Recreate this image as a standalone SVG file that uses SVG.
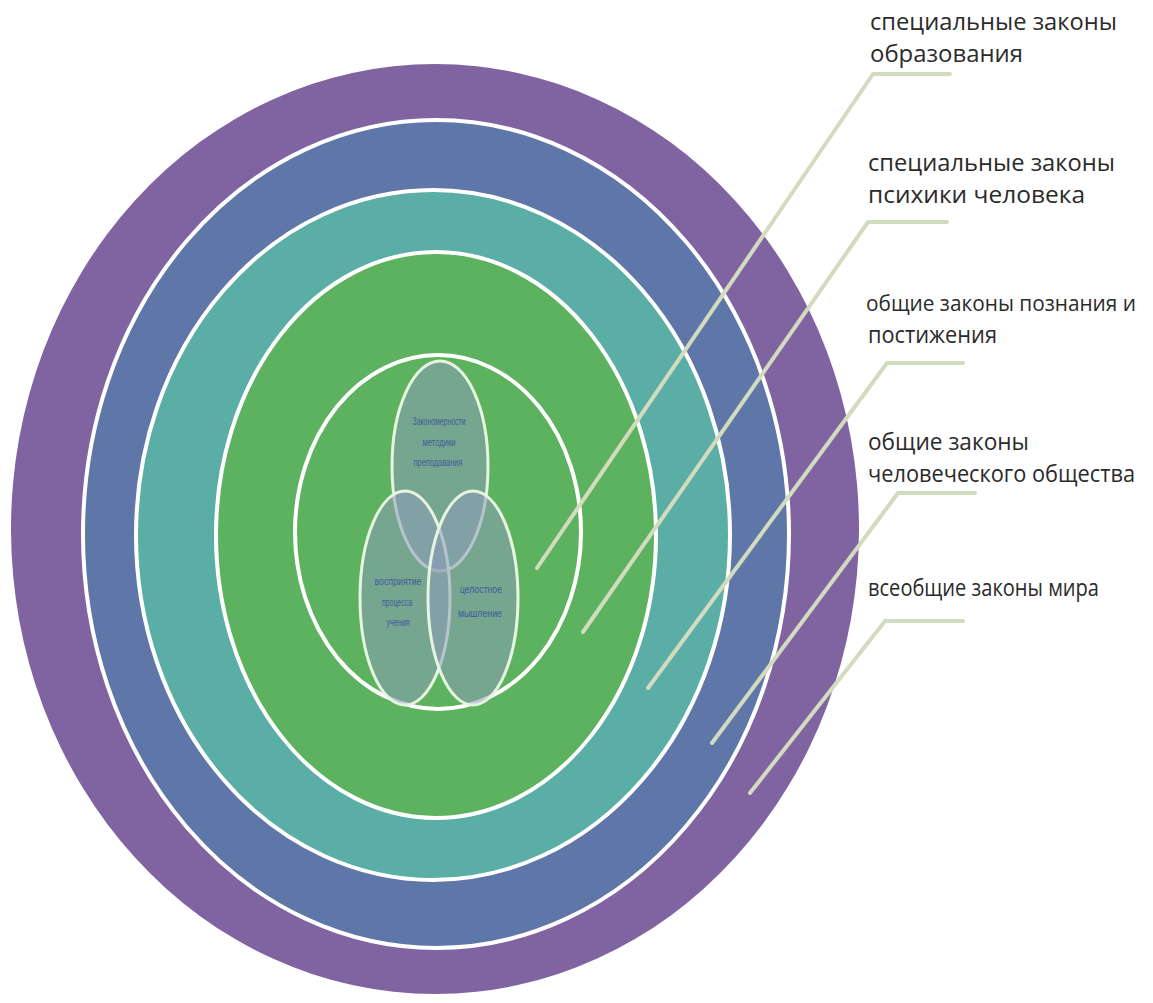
<svg xmlns="http://www.w3.org/2000/svg" width="1153" height="1003" viewBox="0 0 1153 1003">
<style>
.ring{stroke:#ffffff;stroke-width:4}
.lead{fill:none;stroke:#d3dbbf;stroke-width:4;stroke-linecap:round;stroke-linejoin:round}
.lbl{font-family:"Open Sans","Noto Sans",sans-serif;font-size:23px;fill:#2b2b2b}
.mini{fill:#8c9cb8;fill-opacity:0.55;stroke:#e6f5e0;stroke-width:3}
.mt{font-family:"Liberation Sans",sans-serif;font-size:10px;fill:#3e5a9a;text-anchor:middle}
</style>
<rect width="1153" height="1003" fill="#ffffff"/>
<g id="ring-world"><ellipse cx="435" cy="529" rx="424" ry="465" fill="#8064a2"/></g>
<g id="ring-society"><ellipse class="ring" cx="436" cy="534" rx="353" ry="414" fill="#5f76a8"/></g>
<g id="ring-cognition"><ellipse class="ring" cx="433" cy="535" rx="297" ry="345" fill="#5baea6"/></g>
<g id="ring-psyche"><ellipse class="ring" cx="436" cy="535" rx="220" ry="283" fill="#5cb25f"/></g>
<g id="ring-education"><ellipse class="ring" cx="438" cy="532" rx="143" ry="177" fill="#5cb25f"/></g>
<g id="mini-top"><ellipse class="mini" cx="440" cy="466" rx="48" ry="105"/>
<text class="mt" x="439" y="425" textLength="53" lengthAdjust="spacingAndGlyphs">Закономерности</text>
<text class="mt" x="439" y="446" textLength="33" lengthAdjust="spacingAndGlyphs">методики</text>
<text class="mt" x="438" y="466" textLength="49" lengthAdjust="spacingAndGlyphs">преподавания</text></g>
<g id="mini-left"><ellipse class="mini" cx="405" cy="598" rx="45" ry="107"/>
<text class="mt" x="398" y="585" textLength="47" lengthAdjust="spacingAndGlyphs">восприятие</text>
<text class="mt" x="397" y="606" textLength="30" lengthAdjust="spacingAndGlyphs">процесса</text>
<text class="mt" x="398" y="626" textLength="23" lengthAdjust="spacingAndGlyphs">учения</text></g>
<g id="mini-right"><ellipse class="mini" cx="473" cy="598" rx="45" ry="107"/>
<text class="mt" x="481" y="593" textLength="42" lengthAdjust="spacingAndGlyphs">целостное</text>
<text class="mt" x="480" y="617" textLength="44" lengthAdjust="spacingAndGlyphs">мышление</text></g>
<g id="connectors">
<polyline class="lead" points="537,568 873,74 950,74"/>
<polyline class="lead" points="583,632 868,222 947,222"/>
<polyline class="lead" points="648,688 887,363 963,363"/>
<polyline class="lead" points="712,743 898,493 975,493"/>
<polyline class="lead" points="750,793 885,621 963,621"/>
</g>
<g id="label-education"><text class="lbl" x="870" y="30" textLength="247" lengthAdjust="spacingAndGlyphs">специальные законы</text><text class="lbl" x="870" y="62" textLength="153" lengthAdjust="spacingAndGlyphs">образования</text></g>
<g id="label-psyche"><text class="lbl" x="868" y="171" textLength="247" lengthAdjust="spacingAndGlyphs">специальные законы</text><text class="lbl" x="868" y="203" textLength="217" lengthAdjust="spacingAndGlyphs">психики человека</text></g>
<g id="label-cognition"><text class="lbl" x="866" y="311" style="font-size:21px" textLength="270" lengthAdjust="spacingAndGlyphs">общие законы познания и</text><text class="lbl" x="868" y="343" textLength="129" lengthAdjust="spacingAndGlyphs">постижения</text></g>
<g id="label-society"><text class="lbl" x="868" y="450" textLength="161" lengthAdjust="spacingAndGlyphs">общие законы</text><text class="lbl" x="868" y="482" textLength="267" lengthAdjust="spacingAndGlyphs">человеческого общества</text></g>
<g id="label-world"><text class="lbl" x="868" y="596" textLength="231" lengthAdjust="spacingAndGlyphs">всеобщие законы мира</text></g>
</svg>
